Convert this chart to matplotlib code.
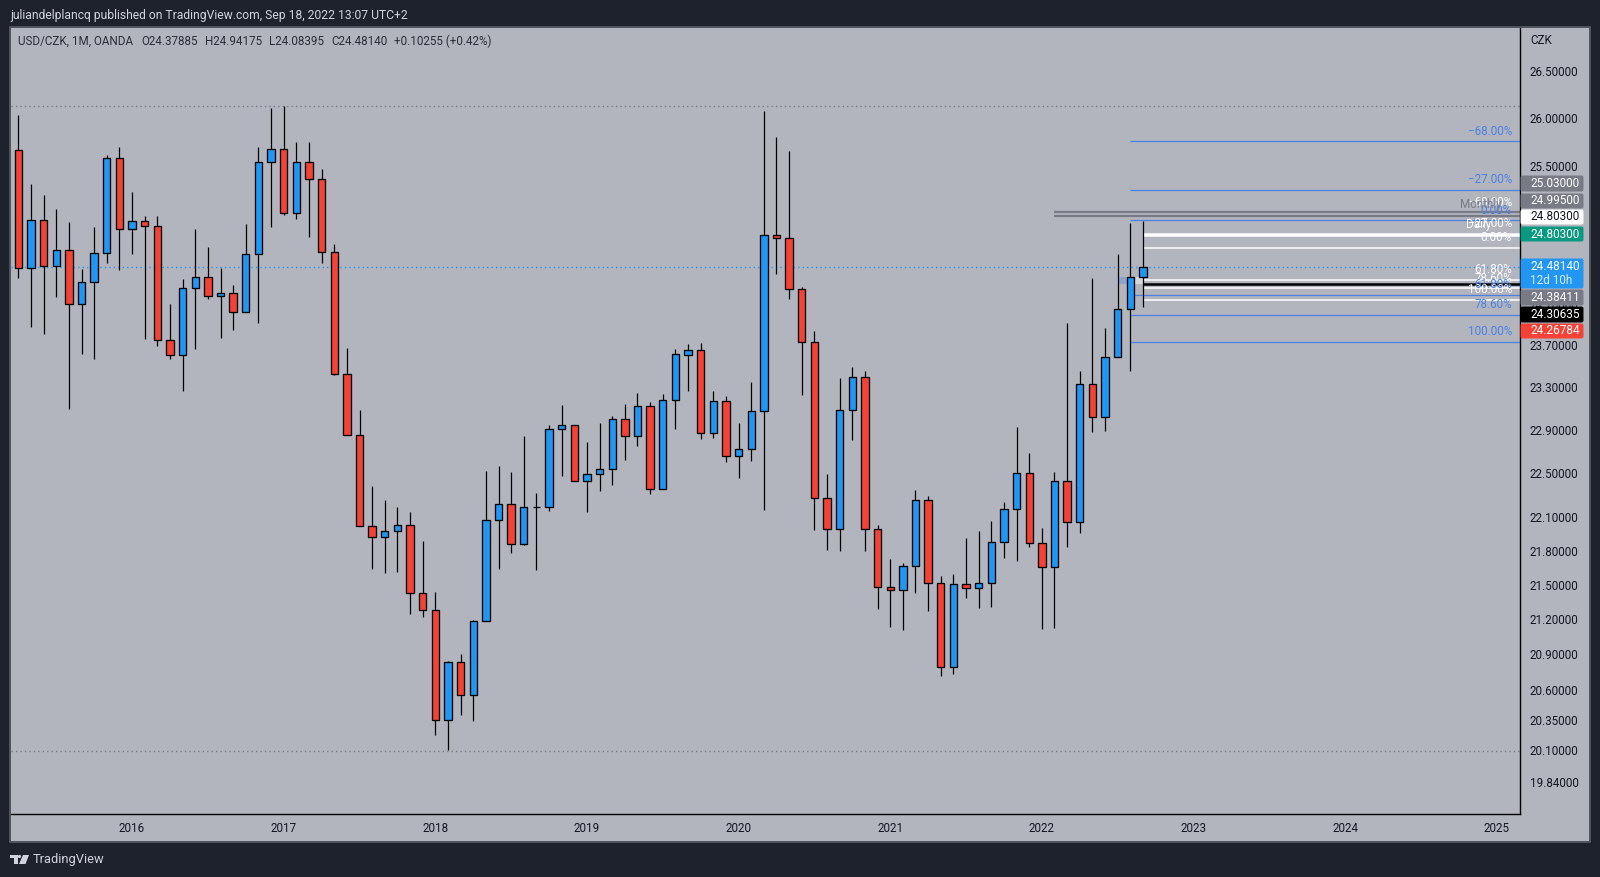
import matplotlib
matplotlib.use("Agg")
import matplotlib.pyplot as plt
from matplotlib.patches import Rectangle, Polygon, Circle, FancyBboxPatch
from matplotlib.ticker import NullLocator, FixedLocator, FuncFormatter
from matplotlib.transforms import ScaledTranslation

plt.rcParams["font.family"] = "Roboto"

# ---------- monthly candles, Mar 2015 .. Sep 2022 ----------
opens = [24.566,25.676,24.473,24.956,24.493,24.652,24.117,24.335,24.622,25.593,
         24.865,24.946,24.895,23.766,23.621,24.275,24.384,24.196,24.225,24.039,
         24.612,25.552,25.687,25.027,25.552,25.376,24.632,23.440,22.865,22.025,
         21.926,21.988,22.034,21.432,21.284,20.352,20.838,20.560,21.189,22.087,
         22.231,21.872,22.204,22.204,22.921,22.958,22.432,22.496,22.542,23.014,
         22.855,23.135,22.359,23.192,23.621,23.669,22.883,23.182,22.670,22.734,
         23.089,24.804,24.774,24.265,23.747,22.277,21.998,23.098,23.411,21.998,
         21.484,21.458,21.669,22.267,21.520,20.796,21.511,21.476,21.520,21.890,
         22.186,22.505,21.881,21.660,22.432,22.061,23.344,23.033,23.602,24.068,
         24.379]
highs = [25.700,26.039,25.325,25.204,25.061,24.929,24.457,24.878,25.617,25.701,
         25.235,24.990,24.990,24.110,24.357,24.858,24.675,24.466,24.298,24.909,
         25.701,26.113,26.134,25.753,25.753,25.480,24.713,23.688,23.098,22.389,
         22.261,22.198,22.153,21.893,21.443,20.849,20.908,21.201,22.526,22.572,
         22.517,22.849,22.325,22.951,23.138,22.958,22.793,22.970,23.036,23.148,
         23.252,23.166,23.242,23.672,23.720,23.730,23.271,23.223,22.970,23.357,
         26.081,25.806,25.659,24.278,23.847,22.497,23.395,23.500,23.462,22.034,
         21.733,21.698,22.352,22.298,21.584,21.601,21.920,21.983,22.072,22.243,
         22.933,22.691,22.007,22.523,23.925,23.462,24.374,23.883,24.612,24.919,
         24.942]
lows = [24.550,24.370,23.889,23.821,24.182,23.101,23.627,23.579,24.519,24.450,
        24.608,23.772,23.704,23.579,23.274,23.675,24.159,23.782,23.860,24.039,
        23.928,24.881,25.003,24.962,24.780,24.519,23.426,22.865,22.025,21.648,
        21.613,21.621,21.255,21.229,20.233,20.107,20.399,20.349,21.189,21.648,
        21.788,21.860,21.639,22.165,22.483,22.432,22.156,22.346,22.401,22.629,
        22.758,22.319,22.359,22.917,23.274,22.824,22.833,22.611,22.465,22.620,
        22.174,24.410,24.162,23.236,21.994,21.815,21.806,22.814,21.806,21.298,
        21.143,21.118,21.437,21.281,20.725,20.742,21.393,21.307,21.315,21.744,
        21.718,21.842,21.126,21.134,21.842,21.967,22.889,22.898,23.602,23.465,
        24.084]
closes = [25.680,24.473,24.956,24.493,24.652,24.117,24.335,24.622,25.593,24.865,
          24.946,24.895,23.766,23.621,24.275,24.384,24.196,24.225,24.039,24.612,
          25.552,25.687,25.027,25.552,25.376,24.632,23.440,22.865,22.025,21.926,
          21.988,22.034,21.432,21.284,20.352,20.838,20.560,21.189,22.087,22.231,
          21.872,22.204,22.204,22.921,22.958,22.432,22.496,22.542,23.014,22.855,
          23.135,22.359,23.192,23.630,23.669,22.883,23.182,22.670,22.734,23.089,
          24.804,24.774,24.265,23.747,22.277,21.998,23.098,23.411,21.998,21.484,
          21.458,21.669,22.267,21.520,20.796,21.511,21.476,21.520,21.890,22.186,
          22.505,21.881,21.660,22.432,22.061,23.344,23.033,23.602,24.068,24.379,
          24.481]

year_labels = ["2016","2017","2018","2019","2020","2021","2022","2023","2024","2025"]
year_months = [10,22,34,46,58,70,82,94,106,118]
price_ticks = [26.5,26.0,25.5,25.0,24.5,24.1,23.7,23.3,22.9,22.5,22.1,21.8,21.5,21.2,20.9,20.6,20.35,20.1,19.84]

fib_labels = ["\u221268.00%","\u221227.00%","0.00%","61.80%","78.60%","100.00%"]
white_fib = [25.030,24.815,24.672,24.353,24.266,24.156]
blue_fib = [25.766,25.263,24.949,24.206,24.010,23.747]

range_high = 26.134
range_low = 20.104
last_price = 24.4814
month_open_a = 25.030
month_open_b = 24.995
daily_open = 24.803
black_level = 24.30635

tag_texts = ["25.03000","24.99500","24.80300","24.80300","24.48140","24.38411","24.30635","24.26784"]

# ---------- style ----------
W, H = 1600, 877
DARK = "#1e222d"
PANEL = "#b2b5be"
BORDER = "#50535e"
BLUE = "#2196f3"
RED = "#f44336"
GREY = "#787b86"
TEAL = "#089981"
FIBBLUE = "#4a82e4"
FS = 8.4

fig = plt.figure(figsize=(16, 8.77), dpi=100, facecolor=DARK)

def rect(x0, y0, x1, y1):
    return [x0/W, 1-y1/H, (x1-x0)/W, (y1-y0)/H]

bg = fig.add_axes([0, 0, 1, 1], zorder=0)
bg.set_xlim(0, W); bg.set_ylim(H, 0); bg.axis("off")
bg.add_patch(Rectangle((10, 27), 1580, 814.5, fc=PANEL, ec=BORDER, lw=1.4))

ax = fig.add_axes(rect(10.5, 27.5, 1520, 814), zorder=1)
ax.set_facecolor("none")
ax.set_yscale("log")
ax.set_ylim(19.591, 26.987)
ax.set_xlim(0.38, 119.84)
for s in ("left", "top"):
    ax.spines[s].set_visible(False)
for s in ("right", "bottom"):
    ax.spines[s].set_color("black")
    ax.spines[s].set_linewidth(1.0)
ax.yaxis.tick_right()
ax.yaxis.set_major_locator(FixedLocator(price_ticks))
ax.yaxis.set_minor_locator(NullLocator())
ax.yaxis.set_major_formatter(FuncFormatter(lambda v, _: f"{v:.5f}"))
ax.set_xticks(year_months)
ax.set_xticklabels(year_labels)
ax.tick_params(axis="y", length=0, pad=7.2, labelsize=FS, labelcolor="#131722")
ax.tick_params(axis="x", length=0, pad=5.8, labelsize=FS, labelcolor="#131722")
nudge = ScaledTranslation(0, 1/100, fig.dpi_scale_trans)
for lab in ax.get_yticklabels():
    lab.set_transform(lab.get_transform() + nudge)

x_tr = ax.get_yaxis_transform()

# horizontal reference lines
for lvl, col in ((range_high, GREY), (range_low, GREY), (last_price, BLUE)):
    ax.axhline(lvl, color=col, lw=1.0, ls=(0, (1, 2.2)), zorder=1)

START_BLUE = 89
START_WHITE = 90
for lvl in blue_fib:
    ax.hlines(lvl, START_BLUE, 119.84, color=FIBBLUE, lw=0.9, zorder=1.5)
for lvl in white_fib:
    ax.hlines(lvl, START_WHITE, 119.84, color="white", lw=1.1, zorder=1.6)
ax.hlines([month_open_a, month_open_b], 83, 119.84, color=GREY, lw=1.6, zorder=1.7)
ax.hlines(daily_open, START_WHITE, 119.84, color="white", lw=1.8, zorder=1.8)
ax.hlines(black_level, START_WHITE, 119.84, color="black", lw=1.8, zorder=1.9)

# small zones around the last candles
ax.fill_between([88, 89], white_fib[3] + 0.03, black_level, color=FIBBLUE, alpha=0.35, lw=0, zorder=1.2)
ax.fill_between([89, 90], white_fib[3] + 0.03, black_level, color="white", alpha=0.45, lw=0, zorder=1.2)

# candles
xs = list(range(len(opens)))
colors = [BLUE if c >= o else RED for o, c in zip(opens, closes)]
bottoms = [min(o, c) for o, c in zip(opens, closes)]
heights = [abs(c - o) for o, c in zip(opens, closes)]
ax.vlines(xs, lows, highs, color="black", lw=0.9, zorder=3)
ax.bar(xs, heights, bottom=bottoms, width=0.58, color=colors, edgecolor="black", linewidth=0.95, zorder=4)

# fib labels, offset above their lines
def fib_text(lvl, s, col):
    ax.annotate(s, xy=(1.0, lvl), xycoords=x_tr, xytext=(-5.8, 7.2), textcoords="offset points",
                ha="right", va="center", fontsize=FS, color=col, zorder=5, annotation_clip=False)

for lvl, s in zip(white_fib, fib_labels):
    fib_text(lvl, s, "white")
for lvl, s in zip(blue_fib, fib_labels):
    fib_text(lvl, s, FIBBLUE)
ax.annotate("Monthly", xy=(1.0, month_open_a), xycoords=x_tr, xytext=(-13, 5.5), textcoords="offset points",
            ha="right", va="center", fontsize=FS, color=GREY, zorder=5)
ax.annotate("Daily", xy=(1.0, daily_open), xycoords=x_tr, xytext=(-21, 7.5), textcoords="offset points",
            ha="right", va="center", fontsize=FS, color="white", zorder=5)

# overlay: tags, header, logo
ov = fig.add_axes([0, 0, 1, 1], zorder=2)
ov.set_xlim(0, W); ov.set_ylim(H, 0); ov.axis("off"); ov.patch.set_alpha(0)

def tag(y0, y1, fc):
    ov.add_patch(FancyBboxPatch((1521, y0 + 1), 62, y1 - y0 - 2, boxstyle="round,pad=0,rounding_size=1.5",
                                fc=fc, ec=fc, lw=0.7, mutation_aspect=1))

rows = [(175, 192, GREY, "white"), (193, 209, GREY, "white"), (209, 225, "white", "#131722"),
        (226, 242, TEAL, "white"), (258, 289, BLUE, "white"), (289, 306, GREY, "white"),
        (306, 323, "black", "white"), (323, 339, RED, "white")]
for (y0, y1, fc, tc), s in zip(rows, tag_texts):
    tag(y0, y1, fc)
    yc = 267 if y1 - y0 > 20 else (y0 + y1) / 2
    ov.text(1530, yc, s, color=tc, fontsize=FS + 0.1, ha="left", va="center")
ov.text(1530, 281, "12d 10h", color="#d6ebfd", fontsize=FS + 0.1, ha="left", va="center")
ov.text(1530, 40.7, "CZK", color="#131722", fontsize=FS, ha="left", va="center")

ov.text(10, 15, "juliandelplancq published on TradingView.com, Sep 18, 2022 13:07 UTC+2",
        color="#d1d4dc", fontsize=8.7, ha="left", va="center")
ov.text(18, 41.7, "USD/CZK, 1M, OANDA", color="#2a2e39", fontsize=FS, ha="left", va="center")
ov.text(141, 41.7, "O24.37885", color="#2a2e39", fontsize=FS, ha="left", va="center")
ov.text(205, 41.7, "H24.94175", color="#2a2e39", fontsize=FS, ha="left", va="center")
ov.text(269, 41.7, "L24.08395", color="#2a2e39", fontsize=FS, ha="left", va="center")
ov.text(331, 41.7, "C24.48140", color="#2a2e39", fontsize=FS, ha="left", va="center")
ov.text(394, 41.7, "+0.10255 (+0.42%)", color="#2a2e39", fontsize=FS, ha="left", va="center")

LOGO = "#d1d4dc"
ov.add_patch(Polygon([(10, 855), (17.5, 855), (17.5, 864), (13.5, 864), (13.5, 858), (10, 858)], fc=LOGO, ec="none"))
ov.add_patch(Circle((19.5, 856.5), 1.6, fc=LOGO, ec="none"))
ov.add_patch(Polygon([(23, 855), (29, 855), (25.5, 864), (19, 864)], fc=LOGO, ec="none"))
ov.text(33, 860, "TradingView", color="#d1d4dc", fontsize=9.3, ha="left", va="center")

fig.savefig("out.png", dpi=100, facecolor=DARK)
